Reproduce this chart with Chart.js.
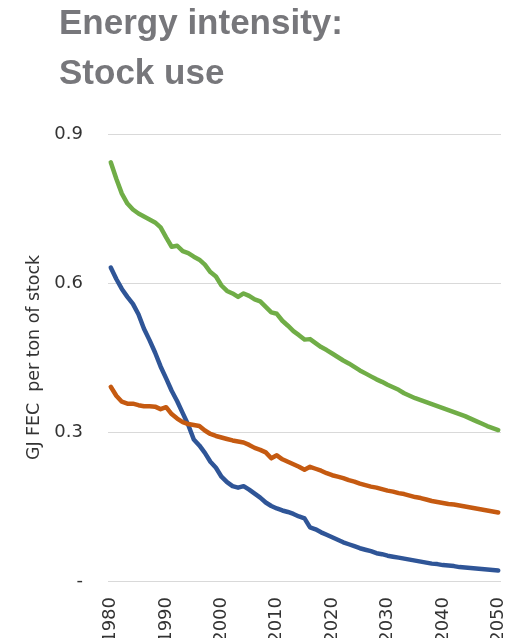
<!DOCTYPE html>
<html>
<head>
<meta charset="utf-8">
<script src="https://cdn.jsdelivr.net/npm/chart.js@4"></script>
<style>
  html, body { margin: 0; padding: 0; background: #fff; overflow: hidden; }
  #wrap { position: relative; width: 518px; height: 638px; }
  #title {
    position: absolute; left: 59px; top: -3px; margin: 0;
    font: bold 35px/50px "Liberation Sans", Arial, sans-serif;
    color: #77777b; z-index: 2;
  }
  canvas { position: absolute; left: 0; top: 0; }
</style>
</head>
<body>
<div id="wrap">
  <h1 id="title">Energy intensity:<br>Stock use</h1>
  <canvas id="intensityChart" width="518" height="638"></canvas>
</div>
<script>
const years = [];
for (let y = 1980; y <= 2050; y++) years.push(y);

const yTicks = [0, 0.3, 0.6, 0.9];

const green = [
  0.843, 0.810, 0.780, 0.760, 0.748, 0.740, 0.734, 0.728, 0.722, 0.712,
  0.692, 0.673, 0.675, 0.664, 0.660, 0.653, 0.647, 0.637, 0.622, 0.613,
  0.595, 0.584, 0.579, 0.572, 0.579, 0.574, 0.567, 0.563, 0.552, 0.541,
  0.538, 0.524, 0.514, 0.503, 0.495, 0.486, 0.487, 0.479, 0.471, 0.465,
  0.458, 0.451, 0.444, 0.438, 0.431, 0.424, 0.418, 0.412, 0.406, 0.401,
  0.395, 0.390, 0.385, 0.378, 0.373, 0.368, 0.364, 0.360, 0.356, 0.352,
  0.348, 0.344, 0.340, 0.336, 0.332, 0.327, 0.322, 0.317, 0.312, 0.308,
  0.304
];

const orange = [
  0.391, 0.373, 0.361, 0.357, 0.357, 0.354, 0.352, 0.352, 0.351, 0.346,
  0.350, 0.336, 0.327, 0.320, 0.316, 0.314, 0.312, 0.303, 0.296, 0.292,
  0.289, 0.286, 0.283, 0.281, 0.279, 0.274, 0.268, 0.264, 0.259, 0.247,
  0.253, 0.245, 0.240, 0.235, 0.230, 0.224, 0.230, 0.226, 0.222, 0.217,
  0.213, 0.210, 0.207, 0.203, 0.200, 0.196, 0.193, 0.190, 0.188, 0.185,
  0.182, 0.180, 0.177, 0.175, 0.172, 0.169, 0.167, 0.164, 0.161, 0.159,
  0.157, 0.155, 0.154, 0.152, 0.150, 0.148, 0.146, 0.144, 0.142, 0.140,
  0.138
];

const blue = [
  0.631, 0.608, 0.588, 0.572, 0.558, 0.537, 0.508, 0.485, 0.460, 0.432,
  0.408, 0.383, 0.362, 0.338, 0.314, 0.285, 0.273, 0.258, 0.240, 0.228,
  0.210, 0.199, 0.191, 0.188, 0.191, 0.184, 0.176, 0.168, 0.158, 0.151,
  0.146, 0.142, 0.139, 0.135, 0.130, 0.126, 0.108, 0.104, 0.098, 0.093,
  0.088, 0.083, 0.078, 0.074, 0.070, 0.066, 0.063, 0.060, 0.056, 0.054,
  0.051, 0.049, 0.047, 0.045, 0.043, 0.041, 0.039, 0.037, 0.035, 0.034,
  0.032, 0.031, 0.030, 0.028, 0.027, 0.026, 0.025, 0.024, 0.023, 0.022,
  0.021
];

const line = (data, color) => ({
  data: data,
  borderColor: color,
  borderWidth: 4.5,
  pointRadius: 0,
  fill: false,
  tension: 0,
  borderCapStyle: 'round',
  borderJoinStyle: 'round'
});

const tickFont = { family: '"DejaVu Sans", sans-serif', size: 18 };

const ctx = document.getElementById('intensityChart').getContext('2d');
new Chart(ctx, {
  type: 'line',
  data: {
    labels: years,
    datasets: [
      line(green, '#70ad47'),
      line(orange, '#c55a11'),
      line(blue, '#2f5597')
    ]
  },
  options: {
    responsive: false,
    animation: false,
    layout: { padding: { top: 134, left: 20, right: 17, bottom: 0 } },
    plugins: {
      legend: { display: false },
      tooltip: { enabled: false }
    },
    scales: {
      x: {
        type: 'category',
        offset: true,
        grid: { display: false, drawTicks: false },
        border: { display: false },
        afterFit: axis => {
          axis.height = 57;
          axis.paddingLeft = 0;
          axis.paddingRight = 0;
        },
        ticks: {
          autoSkip: false,
          minRotation: 90,
          maxRotation: 90,
          padding: 16,
          color: '#333',
          font: tickFont,
          callback: function (value, index) {
            const yr = years[index];
            return yr % 10 === 0 ? String(yr) : null;
          }
        }
      },
      y: {
        min: 0,
        max: 0.9,
        afterBuildTicks: axis => { axis.ticks = yTicks.map(v => ({ value: v })); },
        afterFit: axis => {
          axis.width = 88;
          axis.paddingTop = 0;
          axis.paddingBottom = 0;
        },
        grid: { color: '#d9d9d9', lineWidth: 1, drawTicks: false },
        border: { display: false },
        ticks: {
          padding: 25,
          color: '#333',
          font: tickFont,
          callback: v => (v === 0 ? '-' : v.toFixed(1))
        },
        title: {
          display: true,
          text: 'GJ FEC  per ton of stock',
          color: '#333',
          font: { family: '"DejaVu Sans", sans-serif', size: 17.4 },
          padding: { top: 4, bottom: 4 }
        }
      }
    }
  }
});
</script>
</body>
</html>
